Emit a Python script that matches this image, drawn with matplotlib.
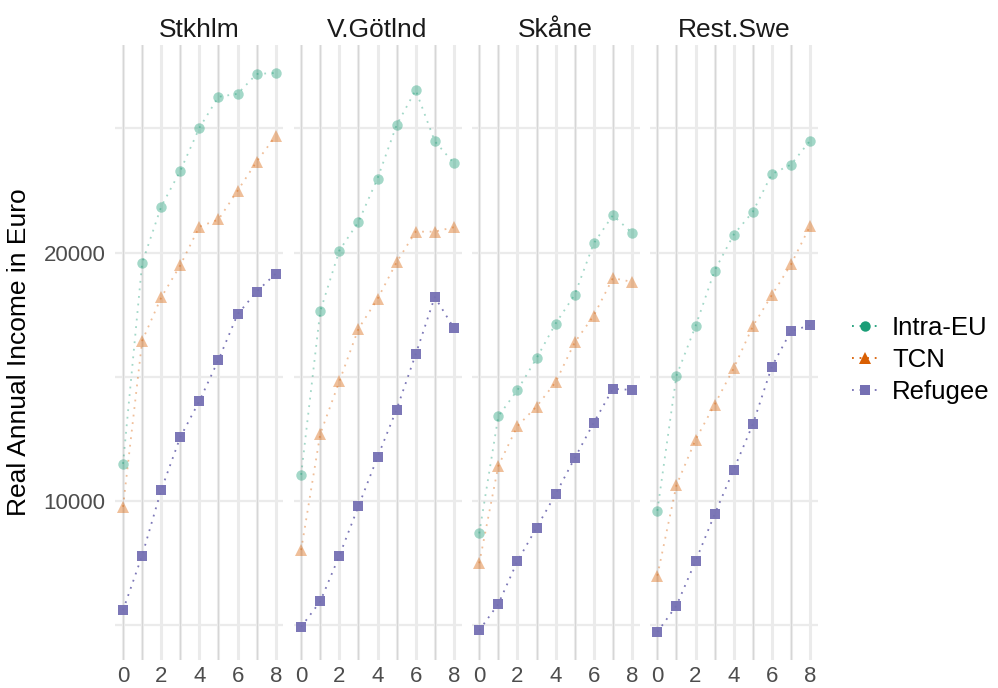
import matplotlib
matplotlib.use("Agg")
import matplotlib.pyplot as plt
from matplotlib.lines import Line2D
import numpy as np

plt.rcParams['font.family'] = ['Liberation Sans', 'DejaVu Sans']

years = [0, 1, 2, 3, 4, 5, 6, 7, 8]
regions = ["Stkhlm", "V.Götlnd", "Skåne", "Rest.Swe"]
groups = ["Intra-EU", "TCN", "Refugee"]

# income per region, per group
intra_eu = {
    "Stkhlm":   [11490, 19570, 21850, 23290, 25020, 26270, 26390, 27190, 27230],
    "V.Götlnd": [11050, 17630, 20080, 21230, 22980, 25130, 26540, 24480, 23600],
    "Skåne":    [8690, 13410, 14460, 15740, 17140, 18300, 20370, 21500, 20790],
    "Rest.Swe": [9600, 15040, 17030, 19270, 20720, 21640, 23160, 23540, 24500],
}
tcn = {
    "Stkhlm":   [9760, 16440, 18190, 19490, 21040, 21330, 22490, 23660, 24700],
    "V.Götlnd": [8020, 12690, 14810, 16930, 18130, 19610, 20840, 20840, 21020],
    "Skåne":    [7490, 11410, 13010, 13800, 14780, 16380, 17460, 18970, 18820],
    "Rest.Swe": [6990, 10630, 12460, 13880, 15340, 17030, 18290, 19520, 21070],
}
refugee = {
    "Stkhlm":   [5600, 7800, 10440, 12570, 14020, 15680, 17510, 18430, 19150],
    "V.Götlnd": [4930, 5950, 7790, 9780, 11760, 13680, 15900, 18210, 16960],
    "Skåne":    [4790, 5850, 7570, 8920, 10270, 11720, 13150, 14510, 14470],
    "Rest.Swe": [4720, 5780, 7570, 9460, 11260, 13080, 15410, 16840, 17070],
}
series = {"Intra-EU": intra_eu, "TCN": tcn, "Refugee": refugee}

colors = {"Intra-EU": "#1B9E77", "TCN": "#D95F02", "Refugee": "#7570B3"}
markers = {"Intra-EU": "o", "TCN": "^", "Refugee": "s"}
msizes = {"Intra-EU": 7.5, "TCN": 8.5, "Refugee": 7.5}
alphas = {"Intra-EU": 0.4, "TCN": 0.4, "Refugee": 0.95}

fig = plt.figure(figsize=(9.98, 6.88), dpi=100)

W, H = 998, 688
left0 = 115.4
pw = 168
gap = 10.1
ptop, pbot = 45, 660

# y range with ggplot-like 5% expansion
allv = [v for s in series.values() for r in s.values() for v in r]
lo, hi = min(allv), max(allv)
pad = (hi - lo) * 0.05
ylim = (lo - pad, hi + pad)

axes = []
for i, reg in enumerate(regions):
    l = (left0 + i * (pw + gap)) / W
    ax = fig.add_axes([l, (H - pbot) / H, pw / W, (pbot - ptop) / H])
    axes.append(ax)
    ax.set_xlim(-0.4, 8.4)
    ax.set_ylim(*ylim)
    for s in ax.spines.values():
        s.set_visible(False)
    # grid
    for yv in [5000, 10000, 15000, 20000, 25000]:
        ax.axhline(yv, color="#EBEBEB", lw=1.6, zorder=0)
    for xv in years:
        ax.axvline(xv, color="#EBEBEB", lw=2.2, zorder=0)
    for xv in [0, 1, 3, 5, 7]:
        ax.axvline(xv, color="#D2D2D2", lw=0.6, zorder=0.5)

    for g in groups:
        y = series[g][reg]
        ax.plot(years, y, color=colors[g], alpha=alphas[g], lw=1.3,
                dashes=(1, 3.2), zorder=2)
        ax.plot(years, y, linestyle="none", marker=markers[g],
                ms=msizes[g], color=colors[g], alpha=alphas[g],
                markeredgewidth=0, zorder=3)

    ax.set_xticks([0, 2, 4, 6, 8])
    ax.set_yticks([10000, 20000])
    ax.tick_params(length=0, labelsize=16, colors="#4D4D4D")
    ax.tick_params(axis="y", pad=7)
    ax.tick_params(axis="x", pad=4.5)
    if i > 0:
        ax.set_yticklabels([])
    ax.set_title(reg, fontsize=19, color="#1A1A1A", pad=6)

axes[0].set_ylabel("Real Annual Income in Euro", fontsize=19,
                   color="#000000", labelpad=9)

handles = [Line2D([0], [0], color=colors[g], lw=1.3, dashes=(1, 3.2),
                  marker=markers[g], ms=msizes[g], markeredgewidth=0)
           for g in groups]
fig.legend(handles, groups, loc="center left",
           bbox_to_anchor=(829 / W, (H - 360) / H), frameon=False,
           fontsize=18.5, handlelength=1.0, handletextpad=0.55,
           labelspacing=0.3)

fig.savefig("out.png", dpi=100)
